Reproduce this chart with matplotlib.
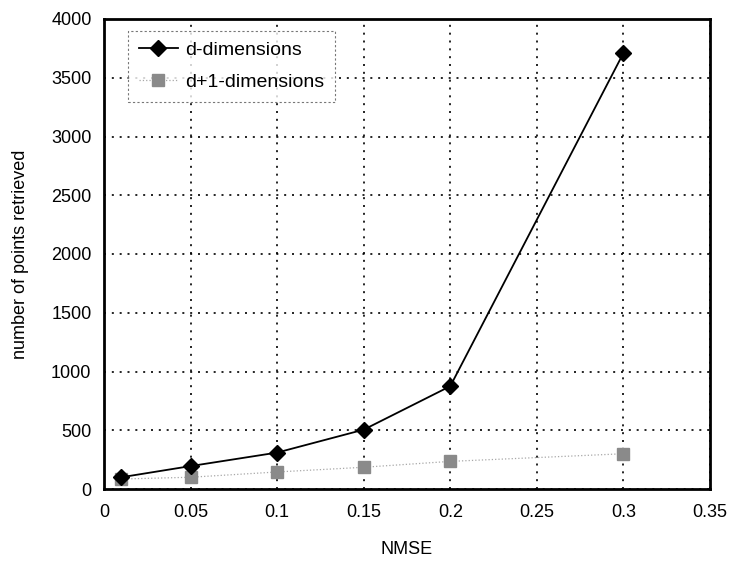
import matplotlib
matplotlib.use("Agg")
import matplotlib.pyplot as plt

plt.rcParams['font.family'] = ['Liberation Sans', 'DejaVu Sans']

nmse = [0.01, 0.05, 0.1, 0.15, 0.2, 0.3]
d_dims = [100, 195, 310, 505, 875, 3710]
d1_dims = [85, 100, 145, 185, 235, 300]

x_ticks = [0, 0.05, 0.1, 0.15, 0.2, 0.25, 0.3, 0.35]
x_labels = ['0', '0.05', '0.1', '0.15', '0.2', '0.25', '0.3', '0.35']
y_ticks = list(range(0, 4001, 500))

fig = plt.figure(figsize=(7.32, 5.63), dpi=100)
ax = fig.add_axes([104 / 732, 1 - 489 / 563, (710 - 104) / 732, (489 - 19) / 563])

ax.plot(nmse, d1_dims, color='#a8a8a8', linestyle=':', linewidth=0.9,
        marker='s', markersize=9, markerfacecolor='#8a8a8a',
        markeredgecolor='#8a8a8a', label='d+1-dimensions', zorder=3)
ax.plot(nmse, d_dims, color='black', linewidth=1.3,
        marker='D', markersize=8, markerfacecolor='black',
        markeredgecolor='black', label='d-dimensions', zorder=4)

ax.set_xlim(0, 0.35)
ax.set_ylim(0, 4000)
ax.set_xticks(x_ticks)
ax.set_xticklabels(x_labels)
ax.set_yticks(y_ticks)
ax.tick_params(labelsize=13, length=0)
ax.tick_params(axis='y', pad=9)
ax.tick_params(axis='x', pad=11)
ax.grid(True, color='black', linestyle=(0, (1.2, 3.5)), linewidth=1.2)
for s in ax.spines.values():
    s.set_linewidth(2)
    s.set_color('black')

ax.set_xlabel('NMSE', fontsize=13, labelpad=14)
ax.set_ylabel('number of points retrieved', fontsize=13, labelpad=16)

handles, labels = ax.get_legend_handles_labels()
leg = ax.legend(handles[::-1], labels[::-1], loc='upper left',
                bbox_to_anchor=(0.04, 0.975), fontsize=14,
                frameon=True, fancybox=False, handlelength=2.0,
                borderpad=0.55, labelspacing=0.75, handletextpad=0.4,
                borderaxespad=0)
leg.get_frame().set_edgecolor('#555555')
leg.get_frame().set_linestyle((0, (2, 2)))
leg.get_frame().set_linewidth(0.8)

fig.savefig('out.png', dpi=100)
